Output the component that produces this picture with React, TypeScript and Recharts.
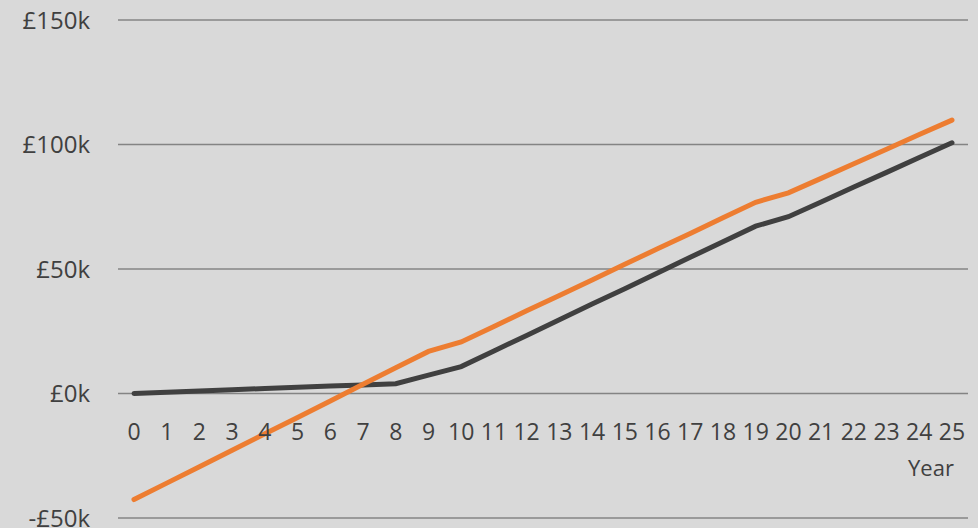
import { CartesianGrid, Line, LineChart, XAxis, YAxis } from "recharts";

const years = [
  "0", "1", "2", "3", "4", "5", "6", "7", "8", "9", "10", "11", "12",
  "13", "14", "15", "16", "17", "18", "19", "20", "21", "22", "23", "24", "25",
];

// dark grey series (£)
const baseValues = [
  0, 500, 1000, 1500, 2000, 2500, 3000, 3400, 3900, 7400, 10800, 17100, 23300,
  29600, 35900, 42100, 48400, 54700, 60900, 67200, 71000, 76900, 82900, 88800,
  94800, 100700,
];

// orange series (£)
const altValues = [
  -42600, -36000, -29400, -22800, -16200, -9600, -3000, 3700, 10300, 16900,
  20700, 26900, 33200, 39400, 45600, 51900, 58100, 64300, 70600, 76800, 80600,
  86400, 92300, 98100, 104000, 109800,
];

const yTicks = [-50000, 0, 50000, 100000, 150000];

const rows = years.map((year, i) => ({
  year,
  base: baseValues[i],
  alt: altValues[i],
}));

const FONT = "'Open Sans', sans-serif";
const TEXT = "#404040";

function formatK(v: number) {
  const k = Math.round(v / 1000);
  return k < 0 ? `-£${-k}k` : `£${k}k`;
}

// x tick labels sit just under the £0k line, not at the bottom of the plot
function YearTick(props: any) {
  const { x, y, payload } = props;
  return (
    <text
      x={x}
      y={y - 86}
      textAnchor="middle"
      fontSize={23}
      fontFamily={FONT}
      fill={TEXT}
    >
      {payload.value}
    </text>
  );
}

function YearLabel(props: any) {
  const vb = props.viewBox ?? {};
  return (
    <text
      x={vb.x + vb.width - 37}
      y={vb.y - 42}
      textAnchor="middle"
      fontSize={22}
      fontFamily={FONT}
      fill={TEXT}
    >
      Year
    </text>
  );
}

export default function App() {
  return (
    <div style={{ width: 978, height: 528, background: "#d9d9d9" }}>
      <style>{`body{margin:0}`}</style>
      <LineChart
        width={978}
        height={528}
        data={rows}
        margin={{ top: 20, right: 10, bottom: 0, left: 0 }}
      >
        <CartesianGrid
          vertical={false}
          stroke="#848484"
          strokeWidth={1.5}
        />
        <XAxis
          dataKey="year"
          axisLine={false}
          tickLine={false}
          interval={0}
          height={10}
          padding={{ left: 16, right: 16 }}
          tick={<YearTick />}
          label={<YearLabel />}
        />
        <YAxis
          domain={[-50000, 150000]}
          ticks={yTicks}
          interval={0}
          width={118}
          axisLine={false}
          tickLine={false}
          tickSize={0}
          tickMargin={28}
          tickFormatter={formatK}
          tick={{ fontSize: 24, fontFamily: FONT, fill: TEXT }}
        />
        <Line
          dataKey="base"
          stroke="#404040"
          strokeWidth={5}
          strokeLinecap="round"
          dot={false}
          isAnimationActive={false}
        />
        <Line
          dataKey="alt"
          stroke="#ed7d31"
          strokeWidth={5}
          strokeLinecap="round"
          dot={false}
          isAnimationActive={false}
        />
      </LineChart>
    </div>
  );
}
